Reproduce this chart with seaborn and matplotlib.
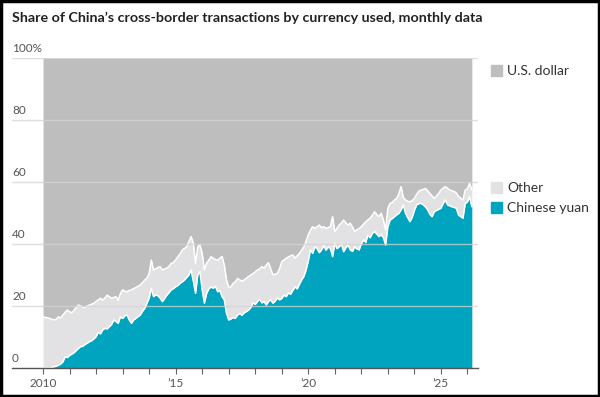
import numpy as np
import pandas as pd
import matplotlib
matplotlib.use("Agg")
import matplotlib.pyplot as plt
import seaborn as sns
from matplotlib.patches import Rectangle

# monthly shares (%), Jan 2010 .. Mar 2026
yuan = [
    0, 0, 0, 0, 0.2, 0.4, 0.6, 0.9, 1.3, 2.0, 3.6, 3.4,                     # 2010
    4.0, 4.5, 4.9, 5.6, 6.3, 6.9, 7.0, 7.6, 8.0, 8.5, 8.8, 9.4,             # 2011
    10.1, 11.5, 11.0, 12.3, 12.8, 12.6, 13.3, 14.0, 15.5, 15.0, 14.4, 16.5, # 2012
    16.0, 16.8, 17.1, 15.5, 14.4, 15.5, 16.0, 16.6, 17.1, 18.3, 19.2, 20.9, # 2013
    22.5, 25.7, 23.0, 23.6, 23.3, 22.5, 21.4, 22.4, 23.5, 24.3, 25.2, 25.6, # 2014
    26.2, 26.6, 27.3, 27.8, 28.4, 29.2, 30.0, 31.6, 28.0, 24.1, 30.0, 31.1, # 2015
    25.2, 20.9, 24.0, 25.5, 26.2, 25.7, 26.4, 24.6, 25.0, 23.0, 22.0, 17.6, # 2016
    15.5, 15.8, 16.3, 16.0, 17.1, 17.6, 17.0, 17.8, 18.2, 18.7, 19.5, 21.0, # 2017
    20.5, 21.4, 22.2, 21.0, 21.4, 20.3, 21.4, 22.0, 20.9, 21.5, 22.6, 22.0, # 2018
    22.4, 23.5, 23.0, 24.2, 23.8, 25.0, 26.2, 25.5, 27.0, 28.4, 29.5, 31.6, # 2019
    34.5, 38.1, 37.0, 39.1, 38.5, 37.2, 38.1, 39.5, 38.0, 39.0, 38.6, 35.9, # 2020
    40.2, 38.5, 39.1, 40.0, 37.5, 38.8, 39.6, 38.1, 37.6, 39.1, 38.4, 38.1, # 2021
    40.0, 41.3, 40.5, 42.9, 42.0, 43.4, 44.0, 43.2, 42.4, 43.0, 42.0, 39.7, # 2022
    45.5, 47.7, 48.2, 48.8, 49.4, 49.9, 51.0, 52.6, 49.9, 48.5, 47.2, 48.6, # 2023
    50.8, 52.6, 53.0, 53.1, 52.6, 52.0, 51.0, 49.6, 48.8, 50.4, 50.8, 51.2, # 2024
    51.5, 53.0, 54.2, 52.6, 52.3, 52.0, 51.8, 51.5, 49.3, 48.8, 48.3, 53.1, # 2025
    53.5, 55.3, 52.0,                                                       # 2026
]

# yuan + other (everything that is not U.S. dollar)
non_dollar = [
    16.6, 16.3, 16.2, 16.0, 15.7, 15.5, 15.8, 16.5, 16.2, 17.1, 18.0, 18.7,
    18.2, 17.8, 18.6, 19.5, 20.3, 20.0, 19.6, 19.5, 20.0, 20.3, 20.6, 20.9,
    21.5, 22.0, 22.5, 21.9, 22.6, 23.5, 23.0, 22.5, 22.8, 23.0, 21.9, 24.0,
    25.2, 24.8, 24.6, 25.0, 25.2, 25.6, 26.0, 26.4, 26.8, 27.5, 28.4, 29.0,
    30.5, 34.8, 31.6, 32.0, 32.4, 32.7, 31.6, 32.0, 32.2, 32.8, 33.8, 34.0,
    34.9, 35.9, 36.8, 38.1, 38.6, 39.1, 40.8, 42.4, 40.2, 33.8, 39.1, 39.7,
    37.0, 31.6, 33.8, 34.8, 35.9, 35.4, 35.0, 34.8, 35.4, 36.0, 33.2, 28.5,
    26.0, 26.2, 27.3, 27.8, 28.9, 28.4, 28.0, 28.4, 29.0, 29.5, 30.0, 30.5,
    31.0, 31.6, 32.0, 32.7, 32.2, 33.2, 34.0, 32.0, 30.0, 30.3, 30.5, 32.0,
    34.3, 34.8, 35.4, 35.8, 36.2, 36.5, 35.4, 36.2, 37.0, 38.0, 39.1, 40.8,
    43.0, 44.5, 45.6, 45.0, 45.6, 46.1, 45.2, 45.6, 45.0, 45.3, 45.6, 48.8,
    44.0, 45.0, 46.1, 46.8, 47.7, 46.8, 46.1, 46.7, 45.5, 44.0, 44.6, 45.0,
    45.6, 46.4, 47.2, 47.8, 48.3, 49.3, 50.4, 49.5, 48.8, 49.9, 47.7, 44.5,
    51.5, 53.1, 53.4, 54.2, 54.7, 56.3, 58.5, 55.0, 54.2, 53.8, 53.6, 54.0,
    54.7, 56.0, 57.0, 57.4, 57.6, 57.9, 57.2, 56.3, 55.5, 54.7, 55.5, 56.3,
    57.4, 58.0, 58.5, 58.0, 57.4, 57.2, 56.9, 56.5, 55.3, 54.8, 54.2, 57.4,
    57.8, 59.6, 57.4,
]

year_ticks = [2010, 2015, 2020, 2025]
year_labels = ["2010", "\u201915", "\u201920", "\u201925"]
y_ticks = [0, 20, 40, 60, 80, 100]
y_labels = ["0", "20", "40", "60", "80", "100%"]

c_usd = "#bebebe"
c_other = "#e2e2e4"
c_yuan = "#00a4bf"

df = pd.DataFrame({
    "t": 2010 + np.arange(len(yuan)) / 12,
    "yuan": yuan,
    "total": non_dollar,
})

sns.set_theme(style="white")
plt.rcParams["font.family"] = ["Lato", "DejaVu Sans"]

fig = plt.figure(figsize=(6, 3.97), dpi=100)
ax = fig.add_axes([0.02, 0.073, 0.7767, 0.781])

ax.fill_between(df["t"], df["total"], 100, color=c_usd, lw=0, zorder=1)
ax.fill_between(df["t"], df["yuan"], df["total"], color=c_other, lw=0, zorder=1)
ax.fill_between(df["t"], 0, df["yuan"], color=c_yuan, lw=0, zorder=1)
sns.lineplot(data=df, x="t", y="total", color="white", lw=1.1, ax=ax, zorder=2)
sns.lineplot(data=df, x="t", y="yuan", color="white", lw=1.1, ax=ax, zorder=2)

ax.set_xlim(2008.83, 2026.40)
ax.set_ylim(0, 100)
for v in y_ticks[1:]:
    ax.axhline(v, color="#d4d4d4", lw=1, alpha=0.75, zorder=3)
for v, lab in zip(y_ticks, y_labels):
    ax.text(2008.83, v + 1.2, lab, ha="left", va="bottom", fontsize=8.5,
            color="#555555", zorder=4)

ax.set_yticks([])
ax.set_xticks(range(2010, 2027))
ax.set_xticklabels(["" if y not in year_ticks else year_labels[year_ticks.index(y)]
                    for y in range(2010, 2027)], fontsize=8.5, color="#555555")
ax.tick_params(axis="x", length=4, width=0.8, color="#666666", pad=3, bottom=True)
ax.set_xlabel("")
ax.set_ylabel("")
for s in ["top", "left", "right"]:
    ax.spines[s].set_visible(False)
ax.spines["bottom"].set_color("#555555")
ax.spines["bottom"].set_linewidth(1)
ax.spines["bottom"].set_zorder(5)

fig.text(0.02, 0.955, "Share of China\u2019s cross-border transactions by currency used, monthly data",
         fontsize=10.3, fontweight="bold", color="#222222", ha="left", va="center")

legend_items = [("U.S. dollar", c_usd, 0.822), ("Other", c_other, 0.527),
                ("Chinese yuan", c_yuan, 0.477)]
for lab, col, yy in legend_items:
    fig.patches.append(Rectangle((0.818, yy - 0.014), 0.018, 0.028, color=col,
                                 transform=fig.transFigure, figure=fig))
    fig.text(0.845, yy, lab, fontsize=10, color="#333333", ha="left", va="center")

fig.patches.append(Rectangle((0.0015, 0.0025), 0.997, 0.995, fill=False,
                             edgecolor="black", lw=2.5, transform=fig.transFigure, figure=fig))

fig.savefig("out.png", dpi=100)
